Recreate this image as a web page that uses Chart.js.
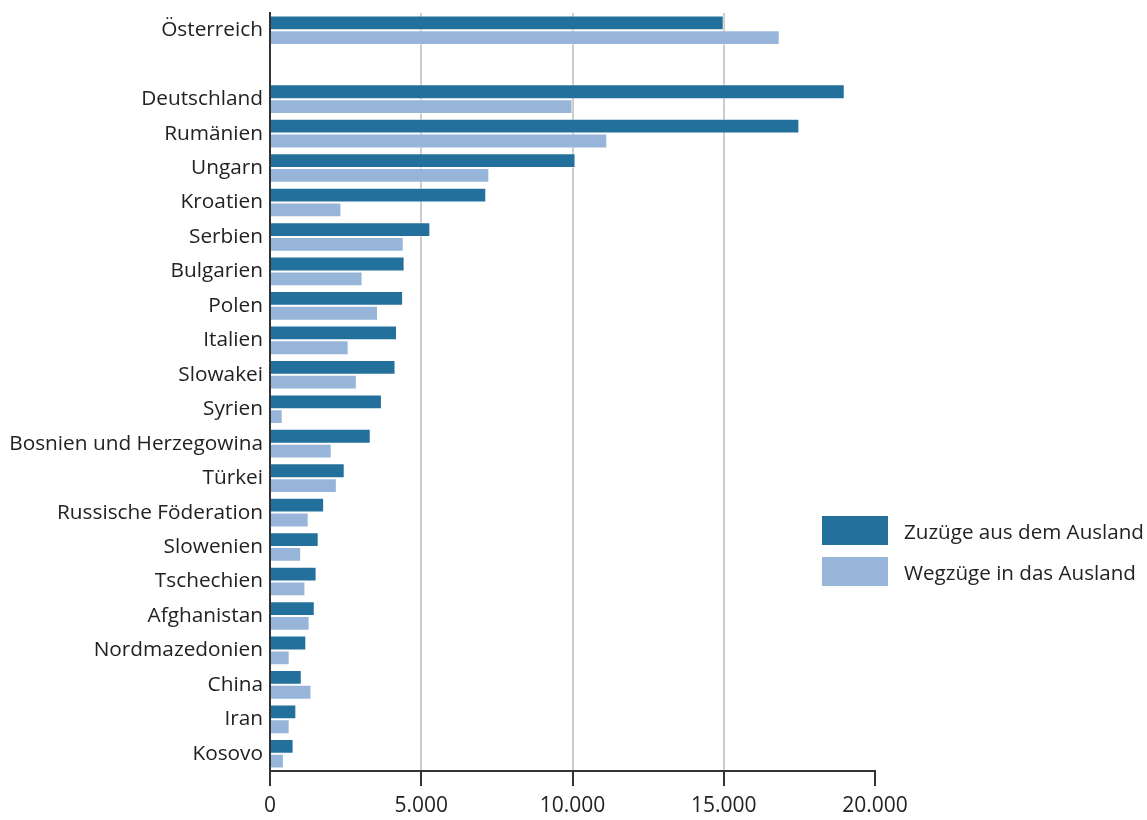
<!DOCTYPE html>
<html>
<head>
<meta charset="utf-8">
<script src="https://cdn.jsdelivr.net/npm/chart.js@4.4.1/dist/chart.umd.min.js"></script>
<style>
  html, body { margin: 0; padding: 0; background: #ffffff; }
  #wrap { position: relative; width: 1147px; height: 820px; }
  #legend { position: absolute; left: 822px; top: 516px; font-family: "Open Sans", Lato, sans-serif; font-size: 20.6px; color: #222; }
  .item { display: flex; align-items: center; height: 29px; margin-bottom: 12px; }
  .box { width: 66px; height: 29px; margin-right: 16px; }
</style>
</head>
<body>
<div id="wrap">
  <canvas id="c" width="1147" height="820"></canvas>
  <div id="legend"></div>
</div>
<script>
const categories = ["Österreich", "", "Deutschland", "Rumänien", "Ungarn", "Kroatien", "Serbien", "Bulgarien", "Polen", "Italien", "Slowakei", "Syrien", "Bosnien und Herzegowina", "Türkei", "Russische Föderation", "Slowenien", "Tschechien", "Afghanistan", "Nordmazedonien", "China", "Iran", "Kosovo"];
const seriesNames = ["Zuzüge aus dem Ausland", "Wegzüge in das Ausland"];
const zuzuege = [15000, null, 19000, 17500, 10100, 7150, 5300, 4450, 4400, 4200, 4150, 3700, 3330, 2470, 1790, 1610, 1540, 1480, 1200, 1050, 870, 780];
const wegzuege = [16850, null, 10000, 11150, 7250, 2360, 4420, 3060, 3570, 2600, 2870, 420, 2040, 2210, 1280, 1030, 1170, 1310, 650, 1370, 650, 460];
const xTicks = [0, 5000, 10000, 15000, 20000];
const colors = ["#24709c", "#97b5d8"];

const FONT = "'Open Sans', Lato, sans-serif";

const chart = new Chart(document.getElementById('c'), {
  type: 'bar',
  data: {
    labels: categories,
    datasets: [
      { label: seriesNames[0], data: zuzuege, backgroundColor: colors[0], borderColor: 'rgba(255,255,255,0.5)', borderWidth: 1, categoryPercentage: 0.86, barPercentage: 1.0 },
      { label: seriesNames[1], data: wegzuege, backgroundColor: colors[1], borderColor: 'rgba(255,255,255,0.5)', borderWidth: 1, categoryPercentage: 0.86, barPercentage: 1.0 }
    ]
  },
  options: {
    indexAxis: 'y',
    responsive: false,
    animation: false,
    layout: { padding: { top: 13, right: 272, left: 0, bottom: 0 } },
    plugins: { legend: { display: false }, tooltip: { enabled: false } },
    scales: {
      x: {
        min: 0, max: 20000,
        afterBuildTicks: (s) => { s.ticks = xTicks.map(v => ({ value: v })); },
        afterFit: (s) => { s.height = 49; s.paddingLeft = 0; s.paddingRight = 0; },
        border: { display: true, color: '#333', width: 2 },
        grid: {
          color: (ctx) => (ctx.tick && (ctx.tick.value === 0 || ctx.tick.value === 20000)) ? 'rgba(0,0,0,0)' : '#cccccc',
          lineWidth: 2,
          tickColor: '#333',
          tickLength: 15,
          drawTicks: true
        },
        ticks: {
          color: '#222',
          font: { family: FONT, size: 21 },
          padding: 7,
          maxRotation: 0,
          callback: (v) => Number(v).toLocaleString('de-DE')
        }
      },
      y: {
        afterFit: (s) => { s.width = 270; s.paddingTop = 0; s.paddingBottom = 0; },
        border: { display: true, color: '#333', width: 2 },
        grid: { display: false, drawTicks: false },
        ticks: {
          color: '#222',
          font: { family: FONT, size: 20.8 },
          padding: 7,
          autoSkip: false
        }
      }
    }
  }
});

const lg = document.getElementById('legend');
seriesNames.forEach((n, i) => {
  const d = document.createElement('div');
  d.className = 'item';
  d.innerHTML = '<div class="box" style="background:' + colors[i] + '"></div><span>' + n + '</span>';
  lg.appendChild(d);
});
</script>
</body>
</html>
